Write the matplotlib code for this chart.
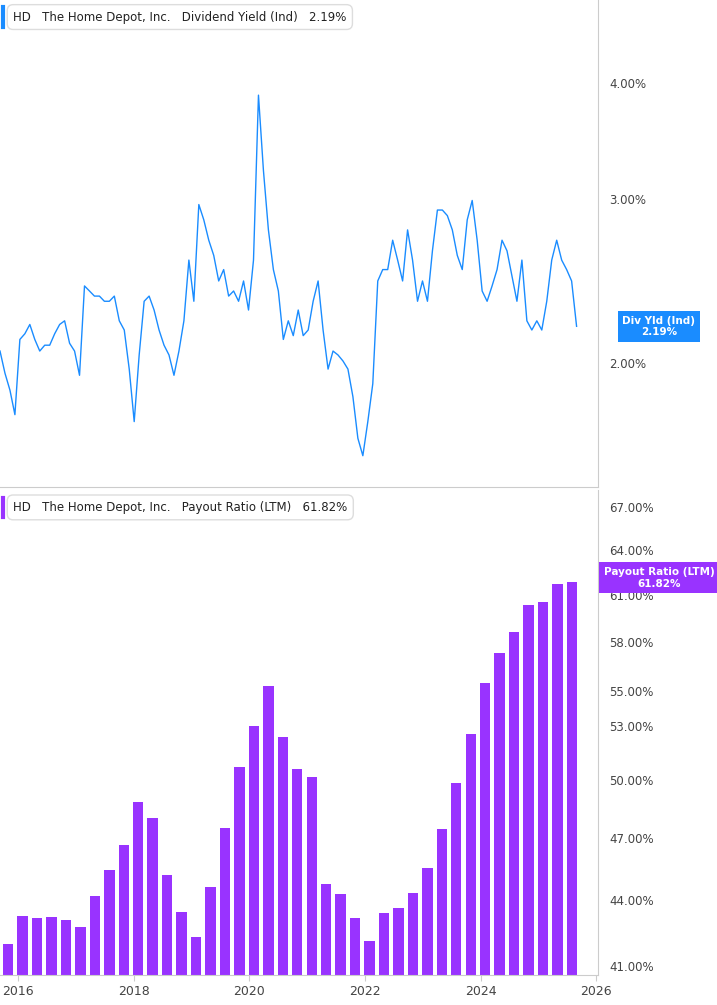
import numpy as np
import matplotlib.pyplot as plt
from matplotlib.ticker import FixedLocator, NullLocator

# dividend yield (%) sampled roughly monthly
yield_v = [2.06, 1.95, 1.87, 1.76, 2.12, 2.15, 2.20, 2.12, 2.06, 2.09, 2.09, 2.15, 2.20, 2.22,
           2.10, 2.06, 1.94, 2.42, 2.39, 2.36, 2.36, 2.33, 2.33, 2.36, 2.22, 2.17, 1.97, 1.73,
           2.04, 2.33, 2.36, 2.28, 2.17, 2.09, 2.04, 1.94, 2.06, 2.22, 2.58, 2.33, 2.96, 2.85,
           2.71, 2.61, 2.45, 2.52, 2.36, 2.39, 2.33, 2.45, 2.28, 2.58, 3.88, 3.22, 2.78, 2.52,
           2.39, 2.12, 2.22, 2.14, 2.28, 2.14, 2.17, 2.33, 2.45, 2.17, 1.97, 2.06, 2.04, 2.01,
           1.97, 1.84, 1.66, 1.59, 1.73, 1.90, 2.45, 2.52, 2.52, 2.71, 2.58, 2.45, 2.78, 2.58,
           2.33, 2.45, 2.33, 2.64, 2.92, 2.92, 2.88, 2.78, 2.61, 2.52, 2.85, 2.99, 2.71, 2.39,
           2.33, 2.42, 2.52, 2.71, 2.64, 2.48, 2.33, 2.58, 2.22, 2.17, 2.22, 2.17, 2.33, 2.58,
           2.71, 2.58, 2.52, 2.45, 2.19]
yield_t = np.linspace(2015.69, 2025.66, len(yield_v))

# payout ratio (%) quarterly
payout_t = 2015.83 + 0.25 * np.arange(40)
payout_v = [41.98, 43.24, 43.14, 43.20, 43.06, 42.74, 44.17, 45.41, 46.65, 48.87,
            48.03, 45.17, 43.43, 42.26, 44.59, 47.52, 50.74, 53.00, 55.30, 52.35,
            50.63, 50.20, 44.73, 44.25, 43.14, 42.12, 43.38, 43.62, 44.30, 45.50,
            47.47, 49.88, 52.52, 55.50, 57.30, 58.60, 60.30, 60.55, 61.70, 61.82]

years = [2016, 2018, 2020, 2022, 2024, 2026]
yield_ticks = [2.0, 3.0, 4.0]
payout_ticks = [41, 44, 47, 50, 53, 55, 58, 61, 64, 67]

blue = "#1a8cff"
purple = "#9933ff"
grid_c = "#cccccc"

fig = plt.figure(figsize=(7.17, 10.05), dpi=100)
ax1 = fig.add_axes([0.0, 0.515, 0.834, 0.485])
ax2 = fig.add_axes([0.0, 0.030, 0.834, 0.482])

for ax in (ax1, ax2):
    ax.set_yscale("log")
    ax.set_xlim(2015.69, 2026.03)
    ax.yaxis.tick_right()
    ax.yaxis.set_minor_locator(NullLocator())
    for s in ("top", "left"):
        ax.spines[s].set_visible(False)
    ax.spines["right"].set_color(grid_c)
    ax.spines["bottom"].set_color(grid_c)
    ax.tick_params(axis="y", length=0, labelsize=8.5, labelcolor="#444444", pad=8)

ax1.plot(yield_t, yield_v, color=blue, lw=1)
ax1.set_ylim(1.47, 4.91)
ax1.yaxis.set_major_locator(FixedLocator(yield_ticks))
ax1.set_yticklabels([f"{v:.2f}%" for v in yield_ticks])
ax1.set_xticks([])

ax2.bar(payout_t, payout_v, width=0.18, color=purple, bottom=0)
ax2.set_ylim(40.6, 68.2)
ax2.yaxis.set_major_locator(FixedLocator(payout_ticks))
ax2.set_yticklabels([f"{v:.2f}%" for v in payout_ticks])
ax2.set_xticks(years)
ax2.set_xticklabels([str(y) for y in years])
ax2.tick_params(axis="x", length=4, color=grid_c, labelsize=9, labelcolor="#444444")

def header(ax, color, text, value):
    ax.text(0.022, 0.965, "HD   The Home Depot, Inc.   " + text + "   " + value,
            transform=ax.transAxes, fontsize=8.5, va="center", color="#222222",
            bbox=dict(boxstyle="round,pad=0.5", fc="white", ec="#dddddd"))
    ax.axvline(ax.get_xlim()[0] + 0.06, ymin=0.945, ymax=0.985, color=color, lw=3)

header(ax1, blue, "Dividend Yield (Ind)", "2.19%")
header(ax2, purple, "Payout Ratio (LTM)", "61.82%")

fig.text(0.919, 0.675, "Div Yld (Ind)\n2.19%", ha="center", va="center", color="white",
         fontsize=7.5, fontweight="bold",
         bbox=dict(boxstyle="square,pad=0.45", fc=blue, ec="none"))
fig.text(0.919, 0.425, "Payout Ratio (LTM)\n61.82%", ha="center", va="center", color="white",
         fontsize=7.5, fontweight="bold",
         bbox=dict(boxstyle="square,pad=0.45", fc=purple, ec="none"))

fig.savefig("out.png", dpi=100)
